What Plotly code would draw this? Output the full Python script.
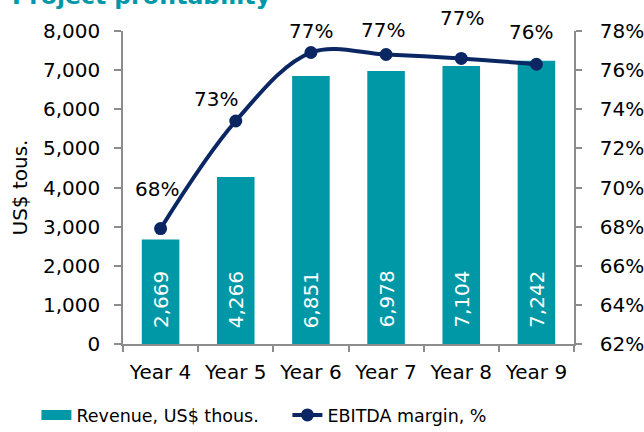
import plotly.graph_objects as go

categories = ["Year 4", "Year 5", "Year 6", "Year 7", "Year 8", "Year 9"]
revenue = [2669, 4266, 6851, 6978, 7104, 7242]
ebitda_margin = [0.679, 0.734, 0.769, 0.768, 0.766, 0.763]
left_ticks = [0, 1000, 2000, 3000, 4000, 5000, 6000, 7000, 8000]
right_ticks = [0.62, 0.64, 0.66, 0.68, 0.70, 0.72, 0.74, 0.76, 0.78]

# label placement tweaks (style only)
label_yshift = [40, 22, 22, 24, 40, 32]
label_xshift = [-4, -20, 0, -3, 1, -5]

TEAL = "#0098a7"
NAVY = "#0b2763"
AXIS = "#8c8c8c"
FONT = "DejaVu Sans"
FS = 20

fig = go.Figure()
fig.add_trace(go.Bar(
    x=categories, y=revenue, name="Revenue, US$ thous.",
    marker=dict(color=TEAL, line=dict(width=0)),
    width=0.5, showlegend=False, legendgroup="rev",
))
# legend swatch for the bars (wide rectangle like the original legend key)
fig.add_trace(go.Scatter(
    x=[None], y=[None], name="Revenue, US$ thous.", mode="lines",
    line=dict(color=TEAL, width=12), legendgroup="rev", hoverinfo="skip",
))
fig.add_trace(go.Scatter(
    x=categories, y=ebitda_margin, name="EBITDA margin, %", yaxis="y2",
    mode="lines+markers",
    line=dict(color=NAVY, width=4, shape="spline", smoothing=1),
    marker=dict(color=NAVY, size=13),
    cliponaxis=False,
))

for c, v in zip(categories, revenue):
    fig.add_annotation(x=c, y=0, yref="y", text=f"{v:,}", textangle=-90,
                       showarrow=False, yanchor="bottom", yshift=14,
                       font=dict(size=FS, color="white", family=FONT))

for c, v, dy, dx in zip(categories, ebitda_margin, label_yshift, label_xshift):
    fig.add_annotation(x=c, y=v, yref="y2", text=f"{round(v*100):d}%",
                       showarrow=False, yshift=dy, xshift=dx,
                       font=dict(size=FS, color="black", family=FONT))

# chart title, mostly cut off at the top edge as in the reference
fig.add_annotation(x=-0.25, xref="paper", xanchor="left",
                   y=1.062, yref="paper", yanchor="bottom",
                   text="<b>Project profitability</b>", showarrow=False,
                   font=dict(size=23.5, color=TEAL, family=FONT))

fig.update_layout(
    width=644, height=432, autosize=False,
    margin=dict(l=123, r=70, t=31, b=88, autoexpand=False),
    paper_bgcolor="white", plot_bgcolor="white",
    font=dict(family=FONT, size=FS, color="black"),
    showlegend=True,
    legend=dict(orientation="h", xref="paper", yref="paper",
                x=-0.192, y=-0.227, xanchor="left", yanchor="middle",
                font=dict(size=17.5, family=FONT),
                entrywidth=206, entrywidthmode="pixels",
                tracegroupgap=0, bgcolor="rgba(0,0,0,0)"),
    xaxis=dict(showline=True, linecolor=AXIS, linewidth=1.5,
               ticks="outside", tickson="boundaries", ticklen=6,
               tickcolor=AXIS, tickwidth=1.5, showgrid=False,
               ticklabelstandoff=9, tickfont=dict(size=FS)),
    yaxis=dict(range=[0, 8000], tickvals=left_ticks, tickformat=",d",
               showline=True, linecolor=AXIS, linewidth=1.5,
               ticks="outside", ticklen=7, tickcolor=AXIS, tickwidth=1.5,
               showgrid=False, zeroline=False, ticklabelstandoff=10,
               title=dict(text="US$ tous.", font=dict(size=FS), standoff=10),
               tickfont=dict(size=FS)),
    yaxis2=dict(range=[0.62, 0.78], tickvals=right_ticks, tickformat=".0%",
                overlaying="y", side="right",
                showline=True, linecolor=AXIS, linewidth=1.5,
                ticks="outside", ticklen=6, tickcolor=AXIS, tickwidth=1.5,
                showgrid=False, zeroline=False, ticklabelstandoff=14,
                tickfont=dict(size=FS)),
)

fig.write_html("out.html", config={"displayModeBar": False},
               post_script="document.body.style.margin='0';")
